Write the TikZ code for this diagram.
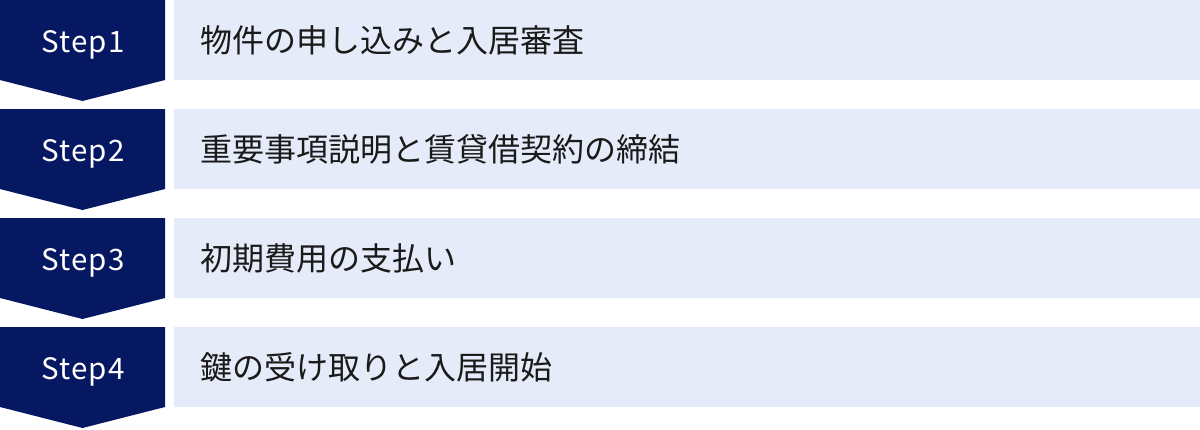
\documentclass[tikz,border=0pt]{standalone}
\usepackage{fontspec}
\setmainfont{Noto Sans CJK JP}
\newfontfamily\stepfont[LetterSpace=4]{Noto Sans CJK JP}
\definecolor{navy}{HTML}{061862}
\definecolor{pale}{HTML}{E5EBF8}
\definecolor{ink}{HTML}{1A1A1A}
\tikzset{
  steparrow/.style={fill=navy, draw=none},
  palebox/.style={fill=pale, draw=none},
  steplabel/.style={text=white, font=\stepfont\fontsize{29.5}{32}\selectfont, inner sep=0pt, anchor=base},
  tasklabel/.style={text=ink, font=\fontsize{32}{36}\selectfont, anchor=base west, inner sep=0pt},
}
\begin{document}
\begin{tikzpicture}[x=1pt,y=-1pt]
\useasboundingbox (0,0) rectangle (1200,429);
\foreach \i/\txt in {0/物件の申し込みと入居審査,1/重要事項説明と賃貸借契約の締結,2/初期費用の支払い,3/鍵の受け取りと入居開始}{
  \pgfmathsetmacro{\yy}{109*\i}
  \fill[steparrow] (0,\yy) -- (165,\yy) -- (165,\yy+80) -- (82.5,\yy+101) -- (0,\yy+80) -- cycle;
  \fill[palebox] (174,\yy) rectangle (1200,\yy+80);
  \pgfmathtruncatemacro{\n}{\i+1}
  \node[steplabel] (s\n) at (83,\yy+52) {Step\n};
  \node[tasklabel] (t\n) at (200,\yy+52) {\txt};
}
\end{tikzpicture}
\end{document}
